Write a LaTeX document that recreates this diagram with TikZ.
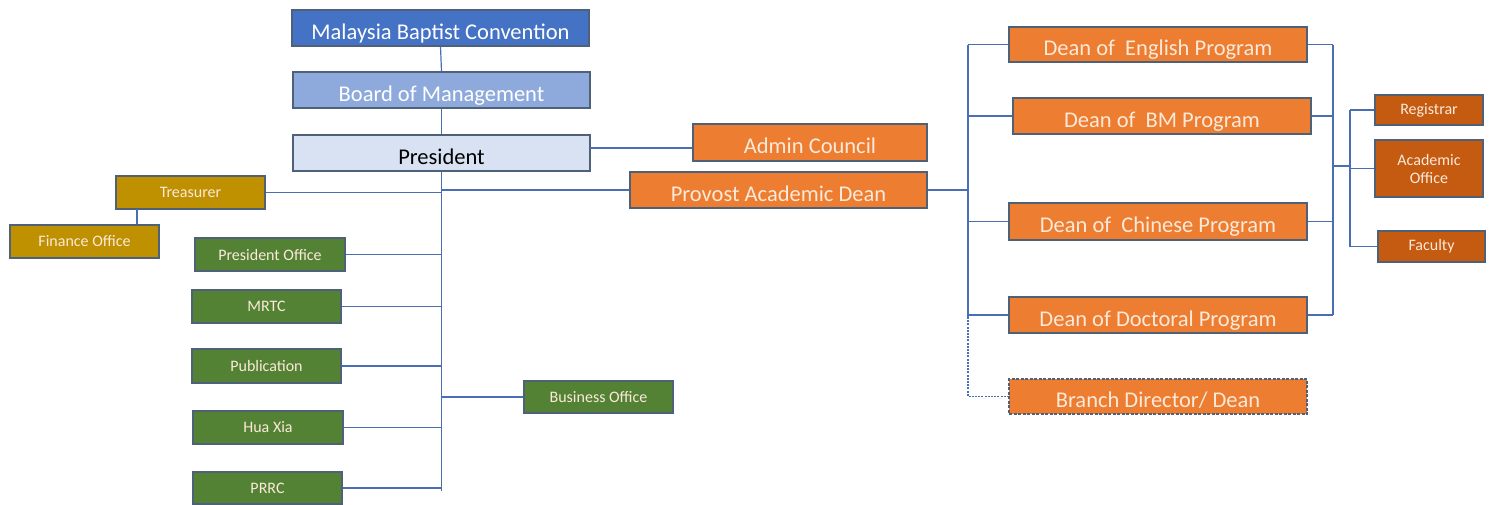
\documentclass[tikz,border=0pt]{standalone}
\usepackage{fontspec}
\setmainfont{Carlito}
\definecolor{lnk}{HTML}{4A6EB3}
\definecolor{bdr}{HTML}{4F6079}
\definecolor{mbcblue}{HTML}{4472C4}
\definecolor{bomblue}{HTML}{8EA9DB}
\definecolor{presblue}{HTML}{D9E2F3}
\definecolor{orng}{HTML}{ED7D31}
\definecolor{dorng}{HTML}{C55A11}
\definecolor{gold}{HTML}{BF9000}
\definecolor{grn}{HTML}{548235}
\definecolor{cream}{HTML}{FBE9DA}
\tikzset{
  box/.style={draw=bdr, line width=1.4pt, inner sep=0pt},
  big/.style={box, font=\fontsize{22.5}{24}\selectfont, text height=22pt, text depth=0pt},
  small/.style={box, align=center, font=\fontsize{16}{17}\selectfont, text=cream},
  link/.style={draw=lnk, line width=1.2pt},
  dlink/.style={draw=lnk, line width=1.2pt, dash pattern=on 2pt off 1.2pt},
}
\begin{document}
\begin{tikzpicture}[x=1pt,y=-1pt]
\useasboundingbox (0,0) rectangle (1491,504);
% top column
\node[big, fill=mbcblue, text=white, minimum width=297, minimum height=36] (mbc) at (440.5,28) {Malaysia Baptist Convention};
\node[big, fill=bomblue, text=white, minimum width=297, minimum height=36] (bom) at (441.5,90) {Board of Management};
\node[big, fill=presblue, text=black, minimum width=297, minimum height=36] (pres) at (441.5,153) {President};
\node[big, fill=orng, text=cream, minimum width=234, minimum height=37] (admin) at (810,142.5) {Admin Council};
\node[big, fill=orng, text=cream, minimum width=297, minimum height=36] (prov) at (778.5,190) {Provost Academic Dean};
% treasurer
\node[small, fill=gold, minimum width=149, minimum height=33] (treas) at (190.5,192.5) {Treasurer};
\node[small, fill=gold, minimum width=149, minimum height=33] (fin) at (84.5,241.5) {Finance Office};
% green
\node[small, fill=grn, minimum width=150, minimum height=33] (po) at (270,254.5) {President Office};
\node[small, fill=grn, minimum width=149, minimum height=33] (mrtc) at (266.5,306.5) {MRTC};
\node[small, fill=grn, minimum width=149, minimum height=34] (pub) at (266.5,366) {Publication};
\node[small, fill=grn, minimum width=150, minimum height=33] (hua) at (268,427.5) {Hua Xia};
\node[small, fill=grn, minimum width=149, minimum height=32] (prrc) at (267.5,488) {PRRC};
\node[small, fill=grn, minimum width=149, minimum height=32] (bus) at (598.5,397) {Business Office};
% deans
\node[big, fill=orng, text=cream, minimum width=298, minimum height=35] (deng) at (1158,44.5) {Dean of\ \ English Program};
\node[big, fill=orng, text=cream, minimum width=298, minimum height=36] (dbm) at (1162,116) {Dean of\ \ BM Program};
\node[big, fill=orng, text=cream, minimum width=298, minimum height=37] (dchi) at (1158,221.5) {Dean of\ \ Chinese Program};
\node[big, fill=orng, text=cream, minimum width=298, minimum height=36] (ddoc) at (1158,315) {Dean of Doctoral Program};
\node[big, fill=orng, text=cream, minimum width=298, minimum height=35, dash pattern=on 3pt off 1.5pt] (branch) at (1158,396.5) {Branch Director/ Dean};
% right offices
\node[small, fill=dorng, minimum width=108, minimum height=30] (reg) at (1429,110) {Registrar};
\node[small, fill=dorng, minimum width=108, minimum height=57] (acad) at (1429,168.5) {Academic\\[1pt]Office};
\node[small, fill=dorng, minimum width=107, minimum height=31] (fac) at (1431.5,246.5) {Faculty};
% coordinates
\coordinate (spine) at (441,491);
\coordinate (acl) at (590,148);
\coordinate (finlink) at (137,209);
\coordinate (lbus) at (968,0);
\coordinate (lbusbot) at (968,317);
\coordinate (rbus) at (1333,0);
\coordinate (obusj) at (1333,166);
\coordinate (obus) at (1350,0);
% links
\draw[link] (mbc.south) -- (bom.north);
\draw[link] (bom.south) -- (pres.north);
\draw[link] (pres.south) -- (pres.south |- spine);
\draw[link] (acl) -- (acl -| admin.west);
\draw[link] (treas.east) -- (treas.east -| spine);
\draw[link] (prov.west) -- (prov.west -| spine);
\draw[link] (finlink) -- (finlink |- fin.north);
\draw[link] (po.east) -- (po.east -| spine);
\draw[link] (mrtc.east) -- (mrtc.east -| spine);
\draw[link] (pub.east) -- (pub.east -| spine);
\draw[link] (hua.east) -- (hua.east -| spine);
\draw[link] (prrc.east) -- (prrc.east -| spine);
\draw[link] (bus.west) -- (bus.west -| spine);
% left bus of deans
\draw[link] (prov.east) -- (prov.east -| lbus);
\draw[link] (deng.west -| lbus) -- (lbusbot);
\draw[link] (deng.west -| lbus) -- (deng.west);
\draw[link] (dbm.west -| lbus) -- (dbm.west);
\draw[link] (dchi.west -| lbus) -- (dchi.west);
\draw[link] (ddoc.west -| lbus) -- (ddoc.west);
\draw[dlink] (lbusbot) -- (lbusbot |- branch.west) -- (branch.west);
% right bus
\draw[link] (deng.east -| rbus) -- (ddoc.east -| rbus);
\draw[link] (deng.east) -- (deng.east -| rbus);
\draw[link] (dbm.east) -- (dbm.east -| rbus);
\draw[link] (dchi.east) -- (dchi.east -| rbus);
\draw[link] (ddoc.east) -- (ddoc.east -| rbus);
\draw[link] (obusj) -- (obusj -| obus);
\draw[link] (reg.west -| obus) -- (fac.west -| obus);
\draw[link] (reg.west -| obus) -- (reg.west);
\draw[link] (acad.west -| obus) -- (acad.west);
\draw[link] (fac.west -| obus) -- (fac.west);
\end{tikzpicture}
\end{document}
